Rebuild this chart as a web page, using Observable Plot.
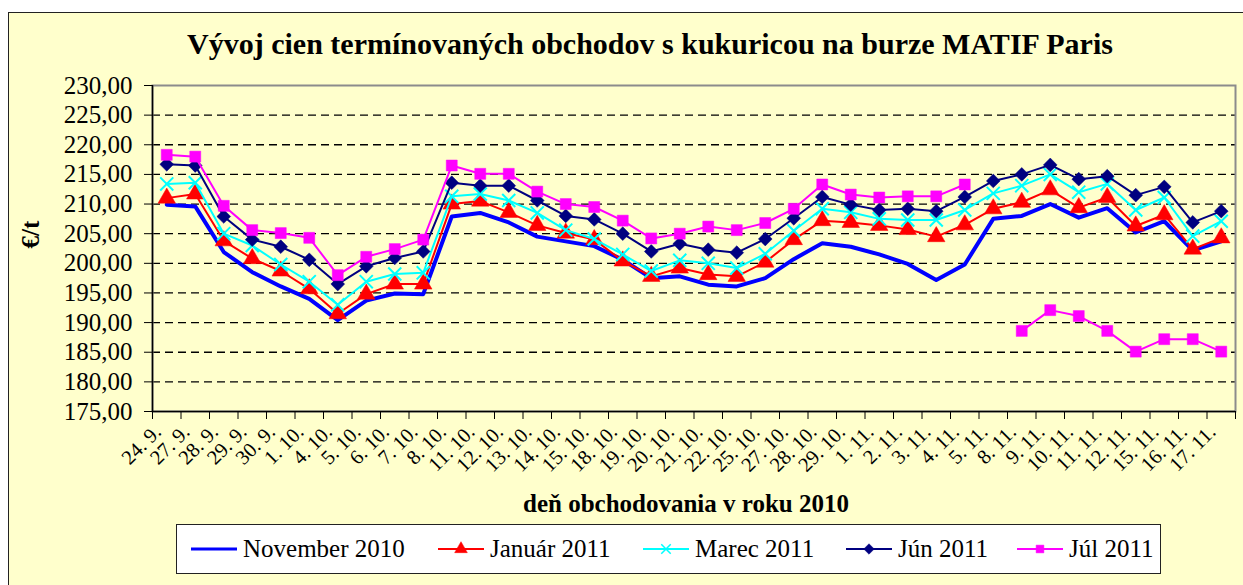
<!DOCTYPE html>
<html>
<head>
<meta charset="utf-8">
<script src="https://cdn.jsdelivr.net/npm/d3@7"></script>
<script src="https://cdn.jsdelivr.net/npm/@observablehq/plot@0.6"></script>
<style>
  html, body { margin: 0; padding: 0; background: #ffffff; }
  body { width: 1243px; height: 585px; position: relative; overflow: hidden; font-family: "Liberation Serif", "Times New Roman", serif; }
  #box { position: absolute; left: 8px; top: 12px; width: 1250px; height: 600px; background: #FFFFCC; border: 1.5px solid #222; }
  #title { position: absolute; left: 0; width: 1300px; top: 27px; text-align: center; font-size: 30px; font-weight: bold; color: #000; white-space: nowrap; }
  #chart { position: absolute; left: 0; top: 60px; }
  #legend { position: absolute; left: 176px; top: 524px; width: 985px; height: 50px; background: #ffffff; border: 1.5px solid #222; box-sizing: border-box; }
  .entry { position: absolute; top: 0; height: 48px; display: flex; align-items: center; font-size: 25px; color: #000; white-space: nowrap; }
  .entry svg { margin-right: 6px; }
</style>
</head>
<body>
<div id="box"></div>
<div id="title">Vývoj cien termínovaných obchodov s kukuricou na burze MATIF Paris</div>
<div id="chart"></div>
<div id="legend"></div>
<script>
// ---- data ----
const categories = ["24. 9.","27. 9.","28. 9.","29. 9.","30. 9.","1. 10.","4. 10.","5. 10.","6. 10.","7. 10.",
  "8. 10.","11. 10.","12. 10.","13. 10.","14. 10.","15. 10.","18. 10.","19. 10.","20. 10.","21. 10.",
  "22. 10.","25. 10.","27. 10.","28. 10.","29. 10.","1. 11.","2. 11.","3. 11.","4. 11.","5. 11.",
  "8. 11.","9. 11.","10. 11.","11. 11.","12. 11.","15. 11.","16. 11.","17. 11."];

const november2010 = [209.9,209.6,201.9,198.5,196.1,194.0,190.4,193.7,194.9,194.8,
  207.9,208.5,206.9,204.5,203.7,202.9,200.6,197.5,197.8,196.4,
  196.1,197.5,200.7,203.4,202.8,201.5,199.9,197.2,199.8,207.5,
  208.0,210.0,207.7,209.3,205.2,207.1,202.2,203.7];
const januar2011 = [211.0,211.7,203.8,200.8,198.7,195.7,191.5,194.8,196.5,196.5,
  210.0,210.5,208.6,206.4,205.1,204.0,200.4,197.8,199.2,198.1,
  197.8,200.2,204.0,207.2,206.9,206.4,205.7,204.5,206.5,209.2,
  210.3,212.4,209.4,211.1,206.3,208.2,202.4,204.3];
const marec2011 = [213.4,213.6,205.0,203.0,199.8,196.9,193.0,196.9,198.2,198.4,
  211.3,211.7,210.6,208.5,205.6,204.1,201.5,198.7,200.5,200.0,
  199.2,201.6,205.5,209.2,208.6,207.5,207.3,207.3,209.0,211.8,
  213.1,215.0,212.0,213.4,209.0,211.1,204.6,207.1];
const jun2011 = [216.7,216.5,207.9,204.0,202.8,200.6,196.5,199.5,200.9,202.0,
  213.6,213.1,213.1,210.6,208.0,207.4,205.0,202.0,203.3,202.3,
  201.8,204.1,207.6,211.2,209.9,209.0,209.2,208.8,211.2,213.9,
  215.0,216.6,214.2,214.7,211.5,212.9,206.9,208.8];
const jul2011 = [218.3,218.0,209.7,205.6,205.1,204.3,198.0,201.1,202.4,204.0,
  216.5,215.1,215.1,212.1,210.0,209.5,207.2,204.2,205.0,206.2,
  205.6,206.8,209.2,213.3,211.6,211.1,211.3,211.3,213.3,null,
  188.6,192.1,191.1,188.6,185.1,187.2,187.2,185.1];

const seriesNames = ["November 2010","Január 2011","Marec 2011","Jún 2011","Júl 2011"];
const seriesValues = [november2010, januar2011, marec2011, jun2011, jul2011];
const yTicks = [175,180,185,190,195,200,205,210,215,220,225,230];
const xTitle = "deň obchodovania v roku 2010";
const yTitle = "€/t";

// ---- styles ----
const styles = [
  {color: "#0000FF", width: 4, symbol: null},
  {color: "#FF0000", width: 2, symbol: "triangle", r: 6.5, fill: true},
  {color: "#00FFFF", width: 2, symbol: "times", r: 6, fill: false},
  {color: "#000080", width: 2, symbol: "diamond2", r: 6.2, fill: true},
  {color: "#FF00FF", width: 2, symbol: "square", r: 6.2, fill: true}
];

const data = seriesNames.map((name, s) => seriesValues[s].map((v, i) => ({series: name, i, value: v}))).flat();

const fmt = d => d.toFixed(2).replace(".", ",");
const idx = categories.map((_, i) => i);
const bounds = d3.range(categories.length + 1).map(i => i - 0.5);

const marks = [
  Plot.gridY(yTicks.filter(t => t > 175 && t < 230), {stroke: "#000", strokeOpacity: 1, strokeWidth: 1.3, strokeDasharray: "8,5"}),
  Plot.frame({stroke: "#8c8c8c", strokeWidth: 2}),
  Plot.ruleX([-0.5], {stroke: "#000", strokeWidth: 1.5}),
  Plot.ruleY([175], {stroke: "#000", strokeWidth: 1.5}),
  Plot.axisY({ticks: yTicks, tickFormat: fmt, tickSize: 8, tickPadding: 12, fontSize: 25, label: null, stroke: "#000"}),
  Plot.axisX({ticks: bounds, tickFormat: () => "", tickSize: 8, label: null}),
  Plot.axisX({ticks: idx, tickFormat: i => categories[i], tickSize: 0, tickPadding: 17, tickRotate: -45, fontSize: 20.5, label: null, dx: -9}),
  Plot.text([yTitle], {frameAnchor: "left", dx: -122, rotate: -90, fontSize: 25, fontWeight: "bold", text: d => d}),
  Plot.text([xTitle], {frameAnchor: "bottom", dy: 100, dx: -8, fontSize: 25, fontWeight: "bold", text: d => d})
];

seriesNames.forEach((name, s) => {
  const st = styles[s];
  const rows = data.filter(d => d.series === name);
  marks.push(Plot.line(rows, {x: "i", y: "value", stroke: st.color, strokeWidth: st.width, curve: "linear"}));
  if (st.symbol) {
    marks.push(Plot.dot(rows.filter(d => d.value != null), {
      x: "i", y: "value", symbol: () => st.symbol, r: st.r,
      fill: st.fill ? st.color : "none", stroke: st.color, strokeWidth: st.fill ? 0.5 : 2
    }));
  }
});

const chart = Plot.plot({
  width: 1243,
  height: 470,
  marginLeft: 152,
  marginRight: 8,
  marginTop: 25,
  marginBottom: 119,
  style: {fontFamily: "Liberation Serif, Times New Roman, serif", background: "transparent", color: "#000", overflow: "visible"},
  x: {type: "linear", domain: [-0.5, categories.length - 0.5], axis: null},
  y: {domain: [175, 230], axis: null},
  symbol: {type: "identity"},
  marks
});
document.getElementById("chart").appendChild(chart);

// ---- legend ----
const legend = document.getElementById("legend");
const entryLeft = [14, 261, 466, 669, 840];
const symbolPath = {
  triangle: d3.symbol(d3.symbolTriangle, 70)(),
  times: d3.symbol(d3.symbolTimes, 60)(),
  diamond2: d3.symbol(d3.symbolDiamond2, 70)(),
  square: d3.symbol(d3.symbolSquare, 60)()
};
seriesNames.forEach((name, s) => {
  const st = styles[s];
  const e = document.createElement("div");
  e.className = "entry";
  e.style.left = entryLeft[s] + "px";
  const ns = "http://www.w3.org/2000/svg";
  const svg = document.createElementNS(ns, "svg");
  svg.setAttribute("width", 46); svg.setAttribute("height", 20);
  const ln = document.createElementNS(ns, "line");
  ln.setAttribute("x1", 0); ln.setAttribute("x2", 46); ln.setAttribute("y1", 10); ln.setAttribute("y2", 10);
  ln.setAttribute("stroke", st.color); ln.setAttribute("stroke-width", s === 0 ? 3 : 2);
  svg.appendChild(ln);
  if (st.symbol) {
    const p = document.createElementNS(ns, "path");
    p.setAttribute("d", symbolPath[st.symbol]);
    p.setAttribute("transform", "translate(23,10)");
    p.setAttribute("fill", st.fill ? st.color : "none");
    p.setAttribute("stroke", st.color);
    p.setAttribute("stroke-width", st.fill ? 0.5 : 1.5);
    svg.appendChild(p);
  }
  e.appendChild(svg);
  const t = document.createElement("span");
  t.textContent = name;
  e.appendChild(t);
  legend.appendChild(e);
});
</script>
</body>
</html>
